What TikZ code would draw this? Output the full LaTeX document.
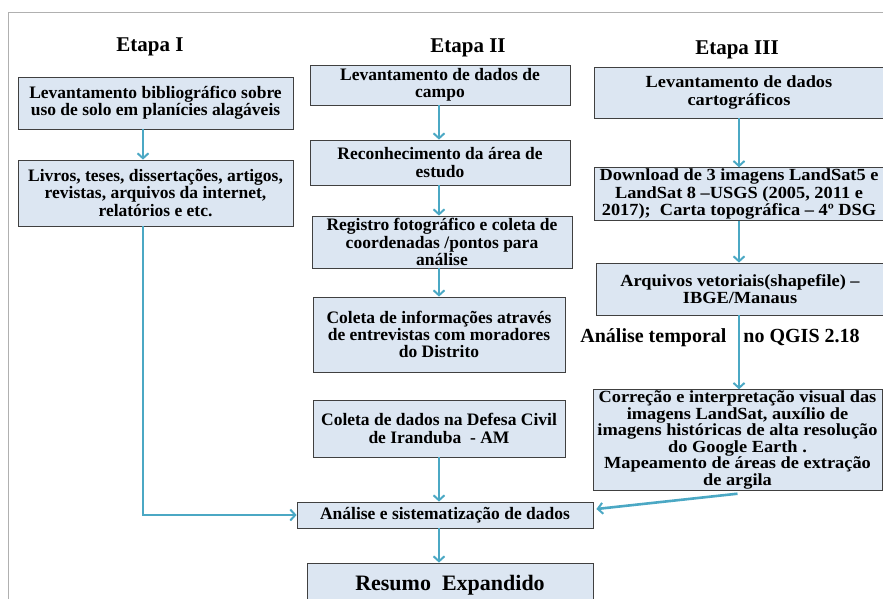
\documentclass[tikz,border=0pt]{standalone}
\usepackage{fontspec}
\setmainfont{Liberation Serif}
\newfontfamily\largafont{Liberation Serif}[FakeStretch=1.08]
\usetikzlibrary{arrows.meta,positioning,calc}

\definecolor{caixacor}{RGB}{220,230,242}
\definecolor{bordacor}{RGB}{64,64,64}
\definecolor{setacor}{RGB}{75,168,196}
\definecolor{molduracor}{RGB}{176,176,176}

\begin{document}
\begin{tikzpicture}[x=1pt,y=-1pt,
    etapa/.style={font=\fontsize{21}{24}\selectfont\bfseries, inner sep=0pt},
    passo/.style={draw=bordacor, fill=caixacor, line width=0.8pt, align=center, inner sep=1pt,
      font=\fontsize{17.5}{17.2}\selectfont\bfseries},
    passolargo/.style={passo, font=\largafont\fontsize{17}{17.5}\selectfont\bfseries},
    seta/.style={draw=setacor, line width=2.6pt,
      -{Straight Barb[length=5pt,width=11pt,line width=2pt]}}]
        \useasboundingbox (0,0) rectangle (883,599);
        \draw[molduracor, line width=1pt] (8,599) -- (8,13) -- (883,13);
        % titulos
        \node[etapa] (t1) at (150,47) {Etapa I};
        \node[etapa] (t2) at (468,48) {Etapa II};
        \node[etapa] (t3) at (737,50) {Etapa III};
        % Etapa I
        \node[passo, minimum width=275, minimum height=52] (I1) at (155.5,103)
          {Levantamento bibliográfico sobre\\uso de solo em planícies alagáveis};
        \node[passo, minimum width=275, minimum height=66] (I2) at (155.5,193)
          {Livros, teses, dissertações, artigos,\\revistas, arquivos da internet,\\relatórios e etc.};
        % Etapa II
        \node[passo, minimum width=260, minimum height=40] (II1) at (440,85)
          {Levantamento de dados de\\campo};
        \node[passo, minimum width=260, minimum height=45] (II2) at (440,162.5)
          {Reconhecimento da área de\\estudo};
        \node[passo, minimum width=260, minimum height=52] (II3) at (442,242)
          {Registro fotográfico e coleta de\\coordenadas /pontos para\\análise};
        \node[passo, minimum width=252, minimum height=75] (II4) at (439,334.5)
          {Coleta de informações através\\de entrevistas com moradores\\do Distrito};
        \node[passo, minimum width=252, minimum height=57] (II5) at (439,428.5)
          {Coleta de dados na Defesa Civil\\de Iranduba\ \ - AM};
        \node[passo, minimum width=296, minimum height=26] (analise) at (445,515)
          {Análise e sistematização de dados};
        \node[passo, minimum width=286, minimum height=44,
          font=\fontsize{22}{24}\selectfont\bfseries] (resumo) at (450,585) {Resumo\ \ Expandido};
        % Etapa III
        \node[passolargo, minimum width=290, minimum height=51] (III1) at (739,92.5)
          {Levantamento de dados\\cartográficos};
        \node[passolargo, minimum width=290, minimum height=48] (III2) at (739,194)
          {Download de 3 imagens LandSat5 e\\LandSat 8 –USGS (2005, 2011 e\\2017);\ \ Carta topográfica – 4º DSG};
        \node[passolargo, minimum width=288, minimum height=52] (III3) at (740,289)
          {Arquivos vetoriais(shapefile) –\\IBGE/Manaus};
        \node[passolargo, minimum width=289, minimum height=100,
          font=\largafont\fontsize{17}{16.6}\selectfont\bfseries] (III4) at (737.5,440)
          {Correção e interpretação visual das\\imagens LandSat, auxílio de\\imagens históricas de alta resolução\\do Google Earth .\\Mapeamento de áreas de extração\\de argila};
        \node[font=\fontsize{20}{22}\selectfont\bfseries, inner sep=0pt] (tempo) at (720,338)
          {Análise temporal\hspace{12pt} no QGIS 2.18};
        % setas
        \coordinate (colI) at (143,0);
        \coordinate (colII) at (439,0);
        \coordinate (colIII) at (739,0);
        \draw[seta] (I1.south -| colI) -- (I2.north -| colI);
        \draw[seta] (I2.south -| colI) |- (analise.west);
        \foreach \a/\b in {II1/II2,II2/II3,II3/II4,II5/analise,analise/resumo} {
          \draw[seta] (\a.south -| colII) -- (\b.north -| colII);
        }
        \foreach \a/\b in {III1/III2,III2/III3,III3/III4} {
          \draw[seta] (\a.south -| colIII) -- (\b.north -| colIII);
        }
        \draw[seta] ($(III4.south)+(0,3)$) -- ($(analise.east)+(3,-6)$);
      \end{tikzpicture}
\end{document}
